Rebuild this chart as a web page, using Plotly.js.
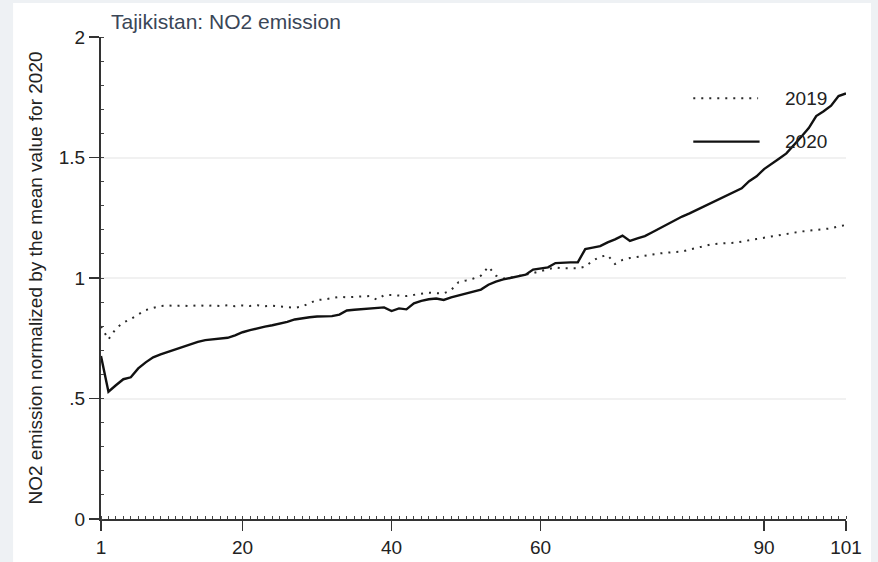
<!DOCTYPE html>
<html>
<head>
<meta charset="utf-8">
<script src="https://cdn.plot.ly/plotly-3.0.1.min.js"></script>
<style>html,body{margin:0;padding:0;background:#fff;}#chart{width:878px;height:562px;}</style>
</head>
<body>
<div id="chart"></div>
<script>
const days = Array.from({length: 101}, (_, i) => i + 1);
const series2019 = [
  0.80, 0.745, 0.79, 0.815, 0.83, 0.85, 0.867, 0.876, 0.884, 0.886,
  0.884, 0.886, 0.883, 0.887, 0.884, 0.886, 0.884, 0.887, 0.883, 0.886,
  0.884, 0.887, 0.883, 0.885, 0.882, 0.88, 0.876, 0.882, 0.895, 0.909,
  0.911, 0.915, 0.922, 0.92, 0.921, 0.922, 0.925, 0.911, 0.929, 0.929,
  0.928, 0.925, 0.93, 0.934, 0.939, 0.937, 0.936, 0.95, 0.983, 0.99,
  0.998, 1.01, 1.047, 1.01, 0.998, 1.002, 1.008, 1.012, 1.02, 1.028,
  1.035, 1.044, 1.04, 1.04, 1.04, 1.047, 1.072, 1.088, 1.095, 1.058,
  1.075, 1.083, 1.088, 1.095, 1.099, 1.102, 1.105, 1.108, 1.11, 1.118,
  1.126, 1.134, 1.14, 1.143, 1.144, 1.146, 1.151, 1.158, 1.162, 1.167,
  1.172, 1.178, 1.185, 1.19, 1.193, 1.196, 1.2, 1.203, 1.206, 1.214,
  1.22
];
const series2020 = [
  0.676, 0.528, 0.555, 0.58, 0.588, 0.625, 0.65, 0.671, 0.683, 0.694,
  0.705, 0.715, 0.725, 0.735, 0.742, 0.745, 0.748, 0.752, 0.762, 0.775,
  0.784, 0.792, 0.798, 0.804, 0.81, 0.818, 0.828, 0.834, 0.837, 0.84,
  0.842, 0.842, 0.848, 0.865, 0.868, 0.87, 0.874, 0.876, 0.878, 0.863,
  0.874, 0.87, 0.895, 0.905, 0.912, 0.915, 0.909, 0.92, 0.928, 0.938,
  0.946, 0.952, 0.972, 0.985, 0.994, 1.0, 1.006, 1.014, 1.035, 1.04,
  1.044, 1.062, 1.065, 1.065, 1.065, 1.12, 1.126, 1.132, 1.148, 1.16,
  1.176, 1.154, 1.164, 1.174, 1.19, 1.206, 1.222, 1.24, 1.255, 1.268,
  1.283, 1.298, 1.313, 1.328, 1.343, 1.358, 1.372, 1.402, 1.422, 1.452,
  1.472, 1.495, 1.517, 1.55, 1.586, 1.622, 1.672, 1.692, 1.715, 1.755,
  1.766
];
const xTickVals = [1, 20, 40, 60, 90, 101];
const yTickVals = [0, 0.5, 1, 1.5, 2];
const yTickText = ['0', '.5', '1', '1.5', '2'];
const seriesNames = ['2019', '2020'];

const FONT = 'Liberation Sans, Arial, sans-serif';
const dotDash = '2px,6px';

const traces = [
  {x: days, y: series2019, name: seriesNames[0], type: 'scatter', mode: 'lines',
   line: {color: '#2a2a2a', width: 2, dash: dotDash}, showlegend: false},
  {x: days, y: series2020, name: seriesNames[1], type: 'scatter', mode: 'lines',
   line: {color: '#111111', width: 2.4}, showlegend: false}
];

// manual legend (longer samples than Plotly's built-in ones)
const legendY = [0.873, 0.783];
const shapes = [
  {type: 'rect', xref: 'paper', yref: 'paper', x0: -0.118, x1: 1.0336, y0: -0.1, y1: 1.0705,
   fillcolor: '#ffffff', line: {width: 0}, layer: 'below'},
  {type: 'line', xref: 'paper', yref: 'paper', x0: 0.795, x1: 0.882, y0: legendY[0], y1: legendY[0],
   line: {color: '#2a2a2a', width: 2, dash: dotDash}},
  {type: 'line', xref: 'paper', yref: 'paper', x0: 0.795, x1: 0.884, y0: legendY[1], y1: legendY[1],
   line: {color: '#111111', width: 2.4}}
];
const annotations = seriesNames.map((n, i) => ({
  text: n, xref: 'paper', yref: 'paper', x: 0.915, y: legendY[i],
  xanchor: 'left', yanchor: 'middle', showarrow: false,
  font: {family: FONT, size: 19, color: '#222'}
}));

const layout = {
  width: 878, height: 562,
  margin: {l: 101, r: 32, t: 37, b: 43},
  paper_bgcolor: '#eef1f4',
  plot_bgcolor: '#ffffff',
  font: {family: FONT, color: '#222'},
  title: {text: 'Tajikistan: NO2 emission', font: {family: FONT, size: 21, color: '#3a4657'},
          xref: 'container', yref: 'container', x: 0.1264, xanchor: 'left', y: 0.962, yanchor: 'middle'},
  xaxis: {
    range: [1, 101], tickmode: 'array', tickvals: xTickVals,
    ticks: 'outside', ticklen: 10, tickwidth: 1.5, tickcolor: '#333',
    showline: true, linecolor: '#333', linewidth: 2, showgrid: false, zeroline: false,
    tickfont: {family: FONT, size: 19, color: '#222'},
    minor: {dtick: 1, tick0: 1, ticks: 'inside', ticklen: 3, tickcolor: '#444', tickwidth: 1, showgrid: false}
  },
  yaxis: {
    range: [0, 2], tickmode: 'array', tickvals: yTickVals, ticktext: yTickText,
    ticks: 'outside', ticklen: 10, tickwidth: 1.5, tickcolor: '#333',
    showline: true, linecolor: '#333', linewidth: 2,
    showgrid: true, gridcolor: '#f1f1f1', gridwidth: 2, zeroline: false,
    tickfont: {family: FONT, size: 19, color: '#222'},
    minor: {dtick: 0.1, tick0: 0, ticks: 'inside', ticklen: 3, tickcolor: '#444', tickwidth: 1, showgrid: false},
    title: {text: 'NO2 emission normalized by the mean value for 2020',
            font: {family: FONT, size: 19, color: '#222'}, standoff: 11}
  },
  shapes: shapes,
  annotations: annotations
};

Plotly.newPlot('chart', traces, layout, {staticPlot: true, displayModeBar: false});
</script>
</body>
</html>
